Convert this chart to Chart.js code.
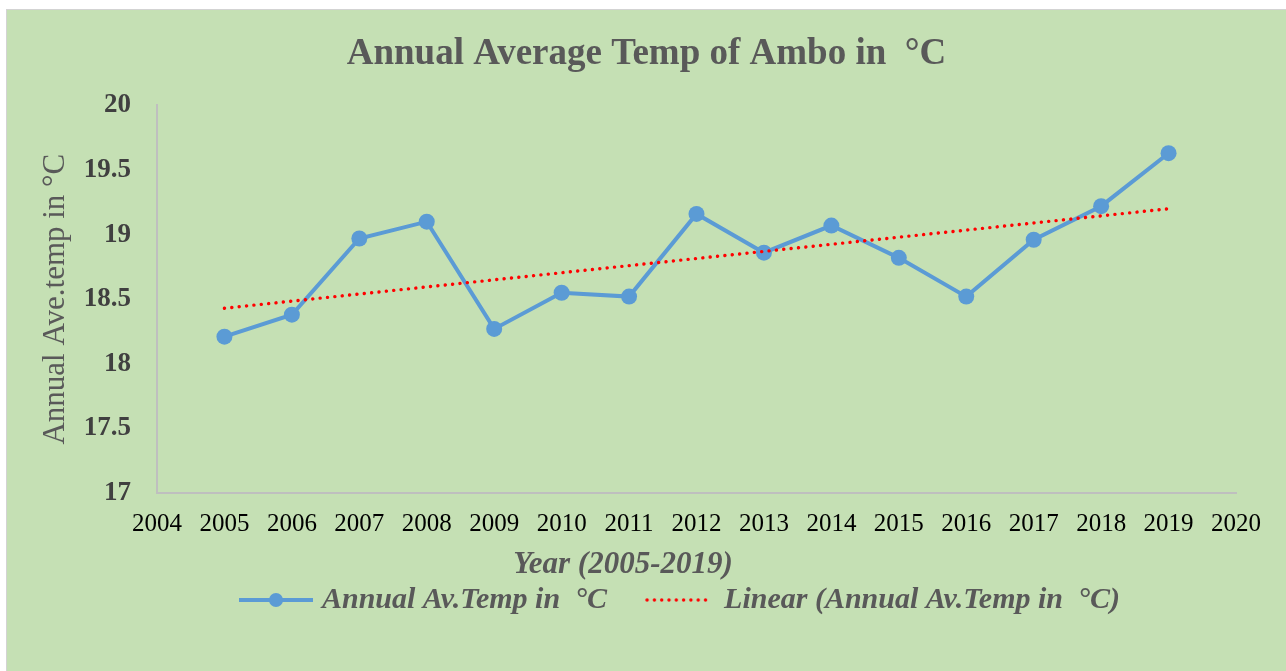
<!DOCTYPE html>
<html>
<head>
<meta charset="utf-8">
<script src="https://cdn.jsdelivr.net/npm/chart.js@4.4.1/dist/chart.umd.min.js"></script>
<style>
  body { margin: 0; background: #fff; overflow: hidden; }
  #frame {
    position: absolute; left: 6px; top: 9px; width: 1280px; height: 662px;
    box-sizing: border-box; background: #C5E0B4;
    border-left: 1px solid #D3D3D3; border-top: 1px solid #D3D3D3;
  }
</style>
</head>
<body>
<div id="frame"><canvas id="tempChart" width="1279" height="661"></canvas></div>
<script>
// data
var years = [2005, 2006, 2007, 2008, 2009, 2010, 2011, 2012, 2013, 2014, 2015, 2016, 2017, 2018, 2019];
var avgTemp = [18.21, 18.38, 18.97, 19.10, 18.27, 18.55, 18.52, 19.16, 18.86, 19.07, 18.82, 18.52, 18.96, 19.22, 19.63];
var trendYears = [2005, 2019];
var trendTemp = [18.43, 19.20];
var xRange = [2004, 2020];
var yRange = [17, 20];

var serif = '"Liberation Serif", "Times New Roman", serif';
var blue = '#5B9BD5';
var red = '#FF0000';
var grey = '#595959';

// legend markers (Excel style: line with marker / dotted line)
function blueMarker() {
  var c = document.createElement('canvas');
  c.width = 76; c.height = 18;
  var g = c.getContext('2d');
  g.strokeStyle = blue; g.lineWidth = 4;
  g.beginPath(); g.moveTo(1, 9); g.lineTo(75, 9); g.stroke();
  g.fillStyle = blue;
  g.beginPath(); g.arc(38, 9, 7, 0, Math.PI * 2); g.fill();
  return c;
}
function redMarker() {
  var c = document.createElement('canvas');
  c.width = 66; c.height = 18;
  var g = c.getContext('2d');
  g.fillStyle = red;
  for (var x = 2; x < 66; x += 7.3) {
    g.beginPath(); g.arc(x, 9, 1.7, 0, Math.PI * 2); g.fill();
  }
  return c;
}

var tempPoints = years.map(function (y, i) { return { x: y, y: avgTemp[i] }; });
var trendPoints = trendYears.map(function (y, i) { return { x: y, y: trendTemp[i] }; });

var extraText = {
  id: 'extraText',
  afterLayout: function (chart) {
    // legend sits right of centre in the reference
    chart.legend.left += 36;
    chart.legend.right += 36;
  },
  afterDraw: function (chart) {
    var g = chart.ctx;
    g.save();
    g.font = 'italic bold 31px ' + serif;
    g.fillStyle = grey;
    g.textAlign = 'center';
    g.textBaseline = 'middle';
    g.fillText('Year (2005-2019)', 616, 555);
    g.restore();
  }
};

new Chart(document.getElementById('tempChart'), {
  type: 'line',
  data: {
    datasets: [{
      label: 'Annual Av.Temp in  \u00B0C',
      data: tempPoints,
      borderColor: blue,
      backgroundColor: blue,
      borderWidth: 4,
      pointRadius: 8,
      pointHoverRadius: 8,
      pointBorderWidth: 0,
      tension: 0,
      order: 1
    }, {
      label: 'Linear (Annual Av.Temp in  \u00B0C)',
      data: trendPoints,
      borderColor: red,
      borderWidth: 3.4,
      borderDash: [0.1, 7.3],
      borderCapStyle: 'round',
      pointRadius: 0,
      fill: false,
      order: 0
    }]
  },
  options: {
    responsive: false,
    animation: false,
    layout: { padding: { left: 0, right: 0, top: 0, bottom: 46 } },
    scales: {
      x: {
        type: 'linear',
        min: xRange[0],
        max: xRange[1],
        grid: { display: false, drawTicks: false },
        border: { display: true, color: '#BFBFBF', width: 2 },
        ticks: {
          stepSize: 1,
          padding: 16,
          color: '#000',
          font: { family: serif, size: 25 },
          maxRotation: 0,
          autoSkip: false,
          callback: function (v) { return String(v); }
        },
        afterFit: function (s) { s.height = 52; }
      },
      y: {
        min: yRange[0],
        max: yRange[1],
        grid: { display: false, drawTicks: false },
        border: { display: true, color: '#BFBFBF', width: 2 },
        ticks: {
          stepSize: 0.5,
          padding: 26,
          color: '#404040',
          font: { family: serif, size: 27, weight: 'bold' },
          callback: function (v) { return String(v); }
        },
        title: {
          display: true,
          text: 'Annual Ave.temp in \u00B0C',
          color: grey,
          font: { family: serif, size: 31 },
          padding: { top: 30, bottom: 0 }
        },
        afterFit: function (s) { s.width = 150; }
      },
      y2: {
        position: 'right',
        display: true,
        grid: { display: false, drawTicks: false },
        border: { display: false },
        ticks: { display: false },
        afterFit: function (s) { s.width = 50; }
      }
    },
    plugins: {
      title: {
        display: true,
        text: 'Annual Average Temp of Ambo in  \u00B0C',
        color: grey,
        font: { family: serif, size: 37, weight: 'bold' },
        padding: { top: 22, bottom: 29 }
      },
      legend: {
        position: 'bottom',
        labels: {
          usePointStyle: true,
          pointStyleWidth: 62,
          padding: 40,
          color: grey,
          font: { family: serif, size: 30, style: 'italic', weight: 'bold' },
          generateLabels: function (chart) {
            return [
              { text: chart.data.datasets[0].label, pointStyle: blueMarker(), lineWidth: 0, fontColor: grey, datasetIndex: 0, hidden: false },
              { text: chart.data.datasets[1].label, pointStyle: redMarker(), lineWidth: 0, fontColor: grey, datasetIndex: 1, hidden: false }
            ];
          }
        }
      },
      tooltip: { enabled: false }
    }
  },
  plugins: [extraText]
});
</script>
</body>
</html>
